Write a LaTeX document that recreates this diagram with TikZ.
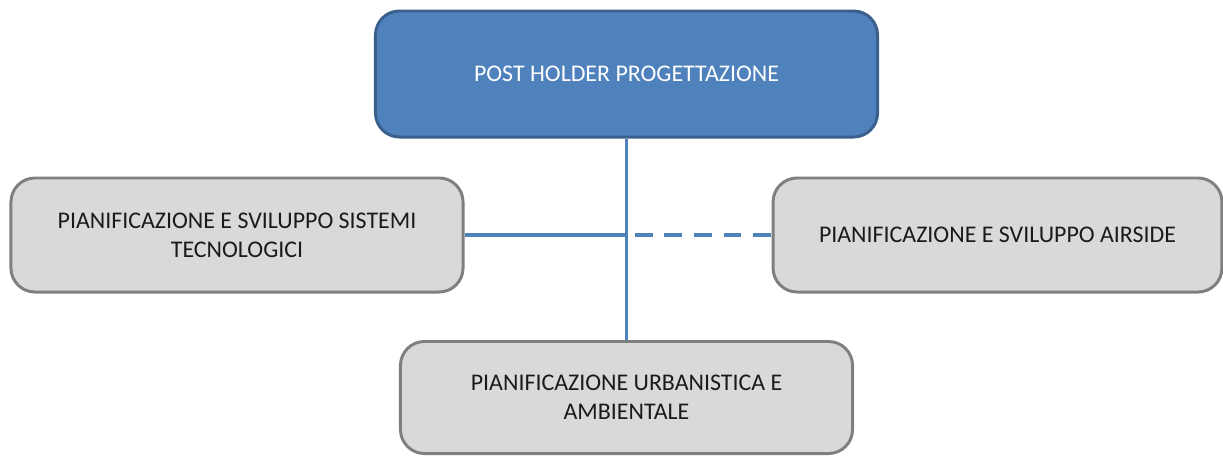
\documentclass[tikz,border=0pt]{standalone}
\usepackage{fontspec}
\setmainfont{Carlito}
\usetikzlibrary{positioning}

\definecolor{boxblue}{HTML}{4F81BD}
\definecolor{boxblueline}{HTML}{3A5F8C}
\definecolor{boxgray}{HTML}{D9D9D9}
\definecolor{boxgrayline}{HTML}{7F7F7F}
\definecolor{textdark}{HTML}{1A1A1A}

\tikzset{
    orgbox/.style={rectangle, rounded corners=0.6cm, line width=2.1pt,
        align=center, font=\fontsize{17}{20.5}\selectfont, inner sep=0pt},
    headbox/.style={orgbox, draw=boxblueline, fill=boxblue, text=white},
    unitbox/.style={orgbox, draw=boxgrayline, fill=boxgray, text=textdark},
    link/.style={draw=boxblue, line width=2.2pt},
    dashlink/.style={link, dash pattern=on 12.5pt off 8.5pt, dash phase=-6pt}
}

\begin{document}
\begin{tikzpicture}[x=0.025cm, y=-0.025cm]
        \useasboundingbox (0,0) rectangle (1223,456);

        % boxes
        \node[headbox, minimum width=12.55cm, minimum height=3.15cm] (head) at (626.5,74)
            {POST HOLDER PROGETTAZIONE};
        \node[unitbox, minimum width=11.3cm, minimum height=2.85cm] (sistemi) at (237,235)
            {PIANIFICAZIONE E SVILUPPO SISTEMI\\TECNOLOGICI};
        \node[unitbox, minimum width=11.22cm, minimum height=2.85cm] (airside) at (997.5,235)
            {PIANIFICAZIONE E SVILUPPO AIRSIDE};
        \node[unitbox, minimum width=11.3cm, minimum height=2.8cm] (urban) at (626.5,397.5)
            {PIANIFICAZIONE URBANISTICA E\\AMBIENTALE};

        % connectors
        \coordinate (hub) at (head.south |- sistemi.east);
        \draw[link] (head.south) -- (urban.north);
        \draw[link] (sistemi.east) -- (hub);
        \draw[dashlink] (hub) -- (airside.west);
\end{tikzpicture}
\end{document}
